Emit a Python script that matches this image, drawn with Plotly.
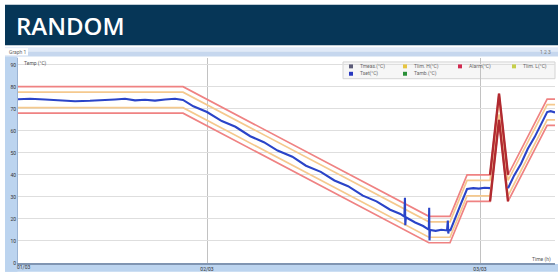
import plotly.graph_objects as go

# ---------------- data ----------------
profile_x = [7.38, 21.89, 43.5, 45.36, 46.86, 48.88, 49.67, 50.46, 53.9, 54.6]
setpoint = [74.1, 74.1, 15.2, 15.2, 34.0, 34.0, 71.0, 34.0, 68.5, 68.5]
upper_limit = [80.1, 80.1, 21.2, 21.2, 40.0, 40.0, 77.0, 40.0, 74.5, 74.5]
lower_limit = [68.1, 68.1, 9.2, 9.2, 28.0, 28.0, 65.0, 28.0, 62.5, 62.5]
upper_warn = [77.6, 77.6, 18.7, 18.7, 37.5, 37.5, 74.5, 37.5, 72.0, 72.0]
lower_warn = [70.6, 70.6, 11.7, 11.7, 30.5, 30.5, 67.5, 30.5, 65.0, 65.0]

meas_x = [7.38, 8.44, 9.76, 11.08, 12.40, 13.71, 15.03, 15.91, 16.79, 17.67, 18.55,
          19.43, 20.31, 21.19, 21.89, 22.8, 24.0, 25.3, 26.5, 27.8, 29.0, 30.2, 31.5,
          32.7, 34.0, 35.2, 36.4, 37.7, 38.9, 40.1, 41.0, 41.35, 41.40, 41.43, 41.48,
          42.3, 43.0, 43.45, 43.50, 43.53, 43.56, 43.60, 44.1, 44.6, 45.1, 45.17,
          45.21, 45.25, 45.4, 45.8, 46.3, 46.86, 47.4, 47.9, 48.4, 48.88, None,
          50.46, 51.0, 51.6, 52.2, 52.8, 53.4, 53.9, 54.2, 54.6]
meas_y = [74.4, 74.6, 74.3, 73.9, 73.5, 73.7, 73.9, 74.3, 74.6, 73.9, 74.2,
          73.8, 74.3, 74.6, 74.1, 71.2, 68.6, 64.5, 61.9, 57.6, 54.9, 51.1, 48.3,
          44.2, 41.4, 37.5, 34.9, 30.6, 28.0, 24.2, 22.3, 21.1, 29.6, 17.2, 20.8,
          18.4, 16.8, 15.3, 15.2, 25.1, 10.3, 15.0, 14.6, 15.1, 14.8, 19.3,
          13.4, 15.0, 14.9, 20.3, 26.6, 33.6, 34.0, 33.8, 34.2, 34.0, None,
          34.0, 39.8, 45.1, 51.9, 57.2, 63.8, 68.6, 69.0, 68.4]

y_ticks = [0, 10, 20, 30, 40, 50, 60, 70, 80, 90]
x_ticks = [24, 48]
x_tick_labels = ["02/03", "03/03"]
start_label = "01/03"

legend_labels = [["Tmeas.(°C)", "Tlim. H(°C)", "Alarm(°C)", "Tlim. L(°C)"],
                 ["Tset(°C)", "Tamb.(°C)"]]
legend_colors = [["#5b5b78", "#e6c542", "#d12a50", "#c6cf4a"],
                 ["#2838c0", "#2a9038"]]

# ---------------- geometry helpers (pixels -> paper) ----------------
W_FIG, H_FIG = 558, 275
L, R, T, B = 18, 555, 58, 266


def px(x):
    return (x - L) / (R - L)


def py(y):
    return (B - y) / (B - T)


fig = go.Figure()

red = "#ef8282"
orange = "#f5c98e"
fig.add_trace(go.Scatter(x=profile_x, y=upper_warn, mode="lines",
                         line=dict(color=orange, width=1.7), showlegend=False))
fig.add_trace(go.Scatter(x=profile_x, y=lower_warn, mode="lines",
                         line=dict(color=orange, width=1.7), showlegend=False))
fig.add_trace(go.Scatter(x=profile_x, y=upper_limit, mode="lines",
                         line=dict(color=red, width=1.7), showlegend=False))
fig.add_trace(go.Scatter(x=profile_x, y=lower_limit, mode="lines",
                         line=dict(color=red, width=1.7), showlegend=False))
# alarm segment (darker red over the spike)
fig.add_trace(go.Scatter(x=profile_x[5:8], y=upper_limit[5:8], mode="lines",
                         line=dict(color="#b02a30", width=2.4), showlegend=False))
fig.add_trace(go.Scatter(x=profile_x[5:8], y=lower_limit[5:8], mode="lines",
                         line=dict(color="#b02a30", width=2.4), showlegend=False))
fig.add_trace(go.Scatter(x=meas_x, y=meas_y, mode="lines", connectgaps=False,
                         line=dict(color="#2a44c8", width=2.1), showlegend=False))

shapes = []


def rect(x0, y0, x1, y1, fill, line=None):
    shapes.append(dict(type="rect", xref="paper", yref="paper",
                       x0=px(x0), x1=px(x1), y0=py(y1), y1=py(y0),
                       fillcolor=fill, layer="below",
                       line=dict(width=1 if line else 0, color=line or fill)))


rect(5, 4, 558, 45, "#063657")          # title banner
rect(5, 47, 558, 51.5, "#e1eaf8")       # toolbar top
rect(5, 51.5, 558, 56.5, "#c6d7ee")     # toolbar bottom
rect(5, 48, 28, 55.5, "#ffffff")        # tab
rect(5, 56.5, 17.5, 275, "#bcd4ef")     # left axis strip
rect(5, 267, 558, 275, "#bcd4ef")       # bottom axis strip
rect(343, 62, 555, 79, "#f6f6f6", "#d4d4d4")  # legend box

annotations = [
    dict(text="RANDOM", x=px(14), y=py(25), xref="paper", yref="paper",
         xanchor="left", yanchor="middle", showarrow=False,
         font=dict(family="Open Sans", size=24, color="white", weight=600)),
    dict(text="Graph 1", x=px(7), y=py(51.5), xref="paper", yref="paper",
         xanchor="left", yanchor="middle", showarrow=False,
         font=dict(family="Roboto", size=5, color="#666")),
    dict(text="1 2 3", x=px(553), y=py(51.5), xref="paper", yref="paper",
         xanchor="right", yanchor="middle", showarrow=False,
         font=dict(family="Roboto", size=5, color="#777")),
    dict(text="Temp (°C)", x=px(22), y=py(64), xref="paper", yref="paper",
         xanchor="left", yanchor="middle", showarrow=False,
         font=dict(family="Roboto", size=5, color="#555")),
    dict(text="Time (h)", x=px(553), y=py(262.5), xref="paper", yref="paper",
         xanchor="right", yanchor="middle", showarrow=False,
         font=dict(family="Roboto", size=5, color="#555")),
    dict(text=start_label, x=px(23), y=py(270.5), xref="paper", yref="paper",
         xanchor="center", yanchor="middle", showarrow=False,
         font=dict(family="Roboto", size=5, color="#333")),
]

col_x = [351, 405, 460, 514]
row_y = [66.5, 74]
for r, (labels, colors) in enumerate(zip(legend_labels, legend_colors)):
    for c, (lab, colr) in enumerate(zip(labels, colors)):
        cx, cy = col_x[c], row_y[r]
        shapes.append(dict(type="rect", xref="paper", yref="paper",
                           x0=px(cx - 2), x1=px(cx + 2), y0=py(cy + 2), y1=py(cy - 2),
                           fillcolor=colr, line=dict(width=0), layer="above"))
        annotations.append(dict(text=lab, x=px(cx + 7), y=py(cy), xref="paper",
                                yref="paper", xanchor="left", yanchor="middle",
                                showarrow=False,
                                font=dict(family="Roboto", size=5, color="#666")))

fig.update_layout(
    width=W_FIG, height=H_FIG,
    margin=dict(l=L, r=W_FIG - R, t=T, b=H_FIG - B, pad=0),
    paper_bgcolor="white", plot_bgcolor="rgba(0,0,0,0)",
    showlegend=False,
    shapes=shapes, annotations=annotations,
    xaxis=dict(range=[7.385, 54.59], tickvals=x_ticks, ticktext=x_tick_labels,
               showgrid=True, gridcolor="#c2c2c2", gridwidth=1, zeroline=False,
               showline=True, linecolor="#8095b2", linewidth=1.5, ticks="",
               tickfont=dict(family="Roboto", size=5, color="#333")),
    yaxis=dict(range=[0, 93.15], tickvals=y_ticks, showgrid=True,
               gridcolor="#dedede", gridwidth=1, zeroline=False,
               showline=True, linecolor="#9ab3d3", linewidth=1, ticks="",
               tickfont=dict(family="Roboto", size=5, color="#333")),
)

fig.write_html("out.html",
               config={"displayModeBar": False},
               post_script="document.body.style.margin='0px';"
                           "document.body.style.overflow='hidden';")
